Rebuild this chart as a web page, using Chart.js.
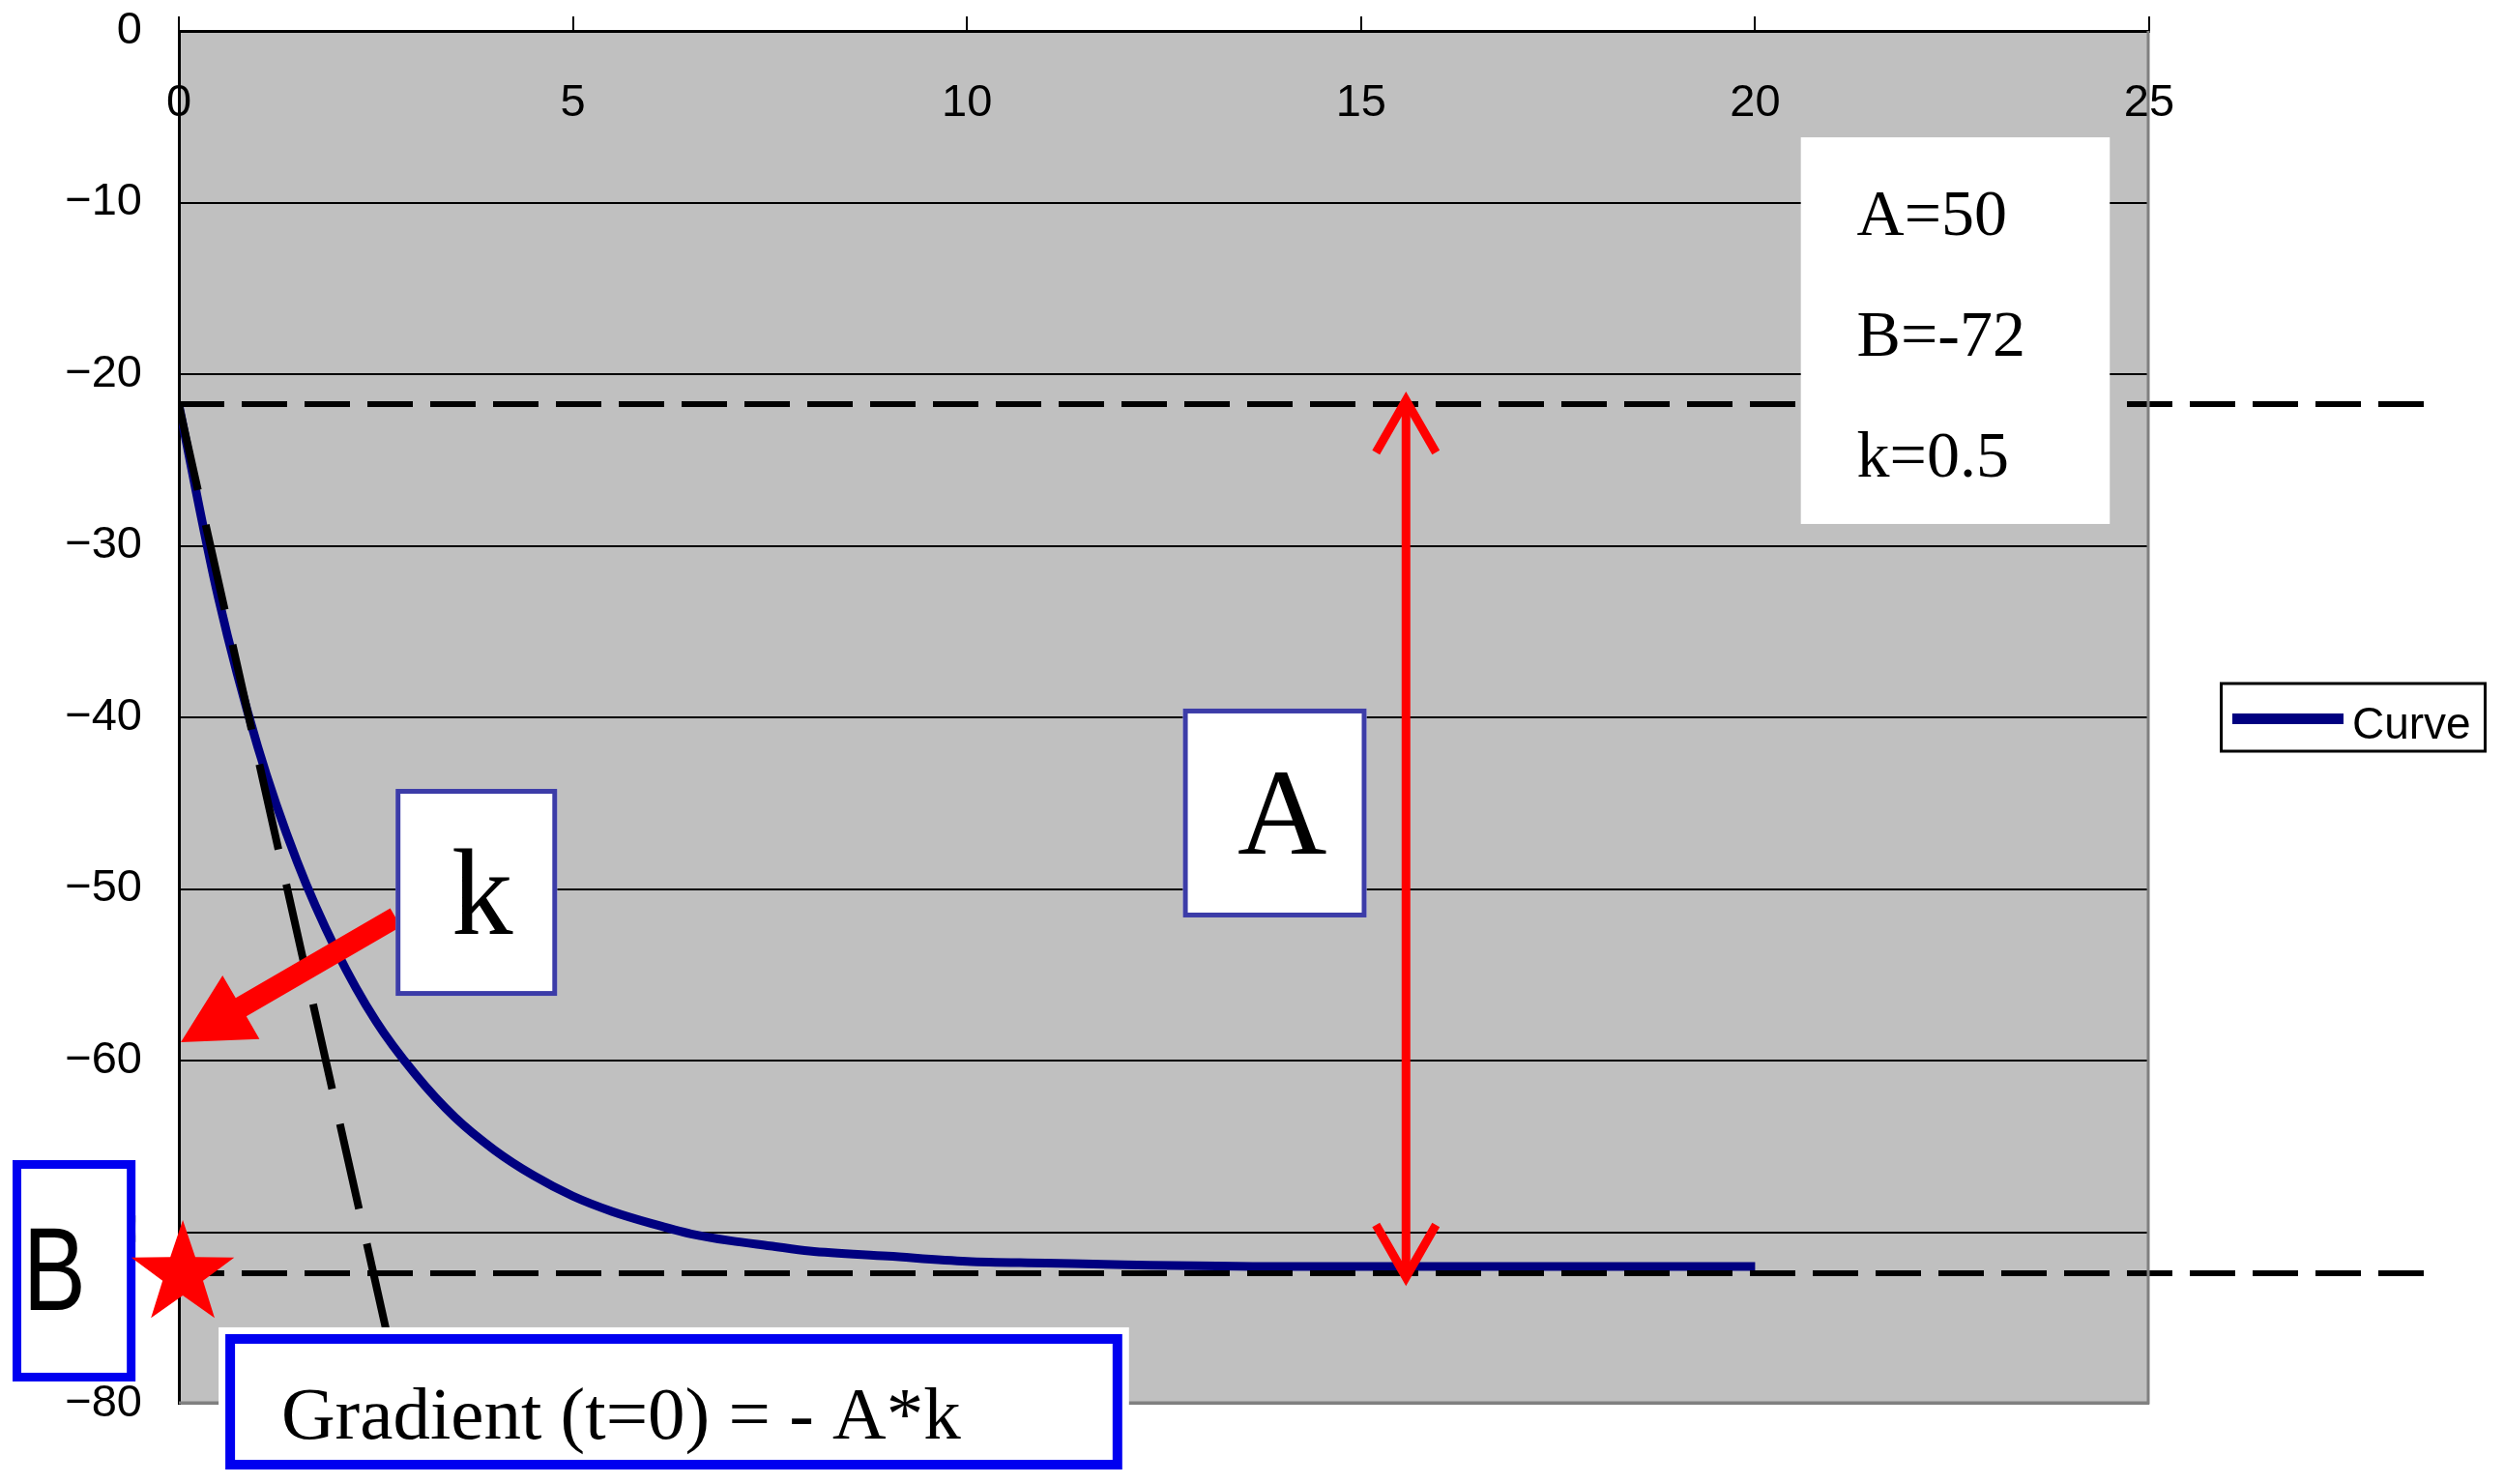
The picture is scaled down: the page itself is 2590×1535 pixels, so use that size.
<!DOCTYPE html>
<html>
<head>
<meta charset="utf-8">
<script src="https://cdn.jsdelivr.net/npm/chart.js@4.4.1/dist/chart.umd.min.js"></script>
<style>
  html, body { margin: 0; padding: 0; background: #fff; }
  canvas { display: block; }
</style>
</head>
<body>
<canvas id="chart" width="2590" height="1535"></canvas>
<script>
// Werte
const curveT = [0, 0.5, 1, 1.5, 2, 2.5, 3, 3.5, 4, 4.5, 5, 5.5, 6, 6.5, 7, 7.5, 8, 9, 10, 11, 12, 14, 16, 18, 20];
const curveY = [-21.8, -33.0, -41.7, -48.4, -53.6, -57.7, -60.8, -63.3, -65.2, -66.7, -67.9, -68.8, -69.5, -70.1,
                -70.5, -70.8, -71.1, -71.4, -71.7, -71.8, -71.9, -72.0, -72.0, -72.0, -72.0];

// Tangente bei t=0 (gestrichelt)
const tangentT = [0, 2.84];
const tangentY = [-21.8, -80];

// Hilfslinien A+B und B
const levelT = [0, 28.7];
const upperLevelY = [-21.75, -21.75];
const lowerLevelY = [-72.4, -72.4];

const xTickValues = [0, 5, 10, 15, 20, 25];
const yTickValues = [0, -10, -20, -30, -40, -50, -60, -70, -80];
const paramLabels = ["A=50", "B=-72", "k=0.5"];
const seriesName = "Curve";

const SANS = '"Liberation Sans", Arial, sans-serif';
const SERIF = '"Liberation Serif", "Times New Roman", serif';

function pts(xs, ys) {
  return xs.map((x, i) => ({ x: x, y: ys[i] }));
}

function drawBox(ctx, x1, y1, x2, y2, border, width, halo) {
  ctx.save();
  ctx.fillStyle = "#fff";
  if (halo) ctx.fillRect(x1 - halo, y1 - halo, x2 - x1 + 2 * halo, y2 - y1 + 2 * halo);
  ctx.fillRect(x1, y1, x2 - x1, y2 - y1);
  if (border) {
    ctx.strokeStyle = border;
    ctx.lineWidth = width;
    ctx.strokeRect(x1 + width / 2, y1 + width / 2, x2 - x1 - width, y2 - y1 - width);
  }
  ctx.restore();
}

function fatArrow(ctx, x1, y1, x2, y2, shaft, headLen, headHalf) {
  const dx = x2 - x1, dy = y2 - y1, L = Math.hypot(dx, dy);
  const ux = dx / L, uy = dy / L, nx = -uy, ny = ux;
  const bx = x2 - ux * headLen, by = y2 - uy * headLen;
  ctx.beginPath();
  ctx.moveTo(x1 + nx * shaft / 2, y1 + ny * shaft / 2);
  ctx.lineTo(bx + nx * shaft / 2, by + ny * shaft / 2);
  ctx.lineTo(bx + nx * headHalf, by + ny * headHalf);
  ctx.lineTo(x2, y2);
  ctx.lineTo(bx - nx * headHalf, by - ny * headHalf);
  ctx.lineTo(bx - nx * shaft / 2, by - ny * shaft / 2);
  ctx.lineTo(x1 - nx * shaft / 2, y1 - ny * shaft / 2);
  ctx.closePath();
  ctx.fill();
}

function star(ctx, cx, cy, R, r) {
  ctx.beginPath();
  for (let i = 0; i < 10; i++) {
    const a = -Math.PI / 2 + i * Math.PI / 5;
    const rad = i % 2 ? r : R;
    const x = cx + Math.cos(a) * rad, y = cy + Math.sin(a) * rad;
    if (i === 0) ctx.moveTo(x, y); else ctx.lineTo(x, y);
  }
  ctx.closePath();
  ctx.fill();
}

const plotFrame = {
  id: "plotFrame",
  beforeDraw(chart) {
    const { ctx, chartArea: a } = chart;
    ctx.save();
    ctx.fillStyle = "#c0c0c0";
    ctx.fillRect(a.left, a.top, a.right - a.left, a.bottom - a.top);
    ctx.restore();
  },
  afterDraw(chart) {
    const { ctx, chartArea: a } = chart;
    const sx = chart.scales.x, sy = chart.scales.y;
    const px = (v) => sx.getPixelForValue(v);
    const py = (v) => sy.getPixelForValue(v);

    ctx.save();
    // rechter + unterer Rand grau
    ctx.strokeStyle = "#808080";
    ctx.lineWidth = 3;
    ctx.beginPath();
    ctx.moveTo(a.left, a.bottom - 1);
    ctx.lineTo(a.right - 1, a.bottom - 1);
    ctx.lineTo(a.right - 1, a.top);
    ctx.stroke();

    // x-Beschriftung liegt innerhalb der Fläche, unter der Achse
    ctx.fillStyle = "#000";
    ctx.font = "47px " + SANS;
    ctx.textAlign = "center";
    ctx.textBaseline = "alphabetic";
    sx.ticks.forEach((t) => ctx.fillText(String(t.value), px(t.value), a.top + 88));

    // Parameterkasten
    drawBox(ctx, px(20.58), py(-6.2), px(24.5), py(-28.73));
    ctx.fillStyle = "#000";
    ctx.font = "68px " + SERIF;
    ctx.textAlign = "left";
    [-11.89, -18.93, -25.97].forEach((yv, i) => ctx.fillText(paramLabels[i], px(21.29), py(yv)));

    // Doppelpfeil A
    ctx.strokeStyle = "#ff0000";
    ctx.lineWidth = 9;
    const ax = px(15.57), aTop = py(-21.3), aBot = py(-72.85);
    ctx.beginPath();
    ctx.moveTo(ax, aTop + 4);
    ctx.lineTo(ax, aBot - 4);
    ctx.stroke();
    ctx.beginPath();
    ctx.moveTo(ax - 31, aTop + 58);
    ctx.lineTo(ax, aTop + 4);
    ctx.lineTo(ax + 31, aTop + 58);
    ctx.moveTo(ax - 31, aBot - 58);
    ctx.lineTo(ax, aBot - 4);
    ctx.lineTo(ax + 31, aBot - 58);
    ctx.stroke();

    // Kasten A
    drawBox(ctx, px(12.74), py(-39.49), px(15.07), py(-51.66), "#3c3ca8", 5);
    ctx.fillStyle = "#000";
    ctx.font = "128px " + SERIF;
    ctx.textAlign = "center";
    ctx.fillText("A", px(14.0), py(-47.94));

    // Pfeil k
    ctx.fillStyle = "#ff0000";
    fatArrow(ctx, px(2.75), py(-51.66), px(0.025), py(-58.93), 22, 72, 38);

    // Kasten k
    drawBox(ctx, px(2.75), py(-44.17), px(4.8), py(-56.23), "#3c3ca8", 5);
    ctx.fillStyle = "#000";
    ctx.font = "127px " + SERIF;
    ctx.fillText("k", px(3.85), py(-52.62));

    // Kasten B (links ausserhalb); weisser Streifen rechts verdeckt die -70
    const bx1 = px(-2.11), bx2 = px(-0.55), by1 = py(-65.8), by2 = py(-78.7);
    ctx.fillStyle = "#fff";
    ctx.fillRect(bx2, by1, 10, by2 - by1);
    drawBox(ctx, bx1, by1, bx2, by2, "#0000f0", 9);
    ctx.save();
    ctx.fillStyle = "#000";
    ctx.font = "122px " + SANS;
    ctx.translate(px(-1.58), py(-74.54));
    ctx.scale(0.8, 1);
    ctx.textAlign = "center";
    ctx.fillText("B", 0, 0);
    ctx.restore();

    // Stern bei B
    ctx.fillStyle = "#ff0000";
    star(ctx, px(0.05), py(-72.45), 56, 22);

    // Kasten Gradient
    drawBox(ctx, px(0.59), py(-75.94), px(11.97), py(-83.83), "#0000f0", 10, 7);
    ctx.fillStyle = "#000";
    ctx.font = "77px " + SERIF;
    ctx.textAlign = "left";
    ctx.fillText("Gradient (t=0) = - A*k", px(1.3), py(-82.03));

    // Legende
    const ds = chart.data.datasets[0];
    const lw = 276, lh = 73;
    const lx = a.right + 73, ly = (a.top + a.bottom) / 2 - lh / 2;
    ctx.fillStyle = "#fff";
    ctx.fillRect(lx, ly, lw, lh);
    ctx.strokeStyle = "#000";
    ctx.lineWidth = 3;
    ctx.strokeRect(lx + 1.5, ly + 1.5, lw - 3, lh - 3);
    ctx.strokeStyle = ds.borderColor;
    ctx.lineWidth = 11;
    ctx.beginPath();
    ctx.moveTo(lx + 13, ly + 38);
    ctx.lineTo(lx + 128, ly + 38);
    ctx.stroke();
    ctx.fillStyle = "#000";
    ctx.font = "46px " + SANS;
    ctx.textAlign = "left";
    ctx.fillText(ds.label, lx + 137, ly + 58);
    ctx.restore();
  }
};

const ctx = document.getElementById("chart").getContext("2d");

new Chart(ctx, {
  type: "line",
  data: {
    datasets: [
      {
        label: seriesName,
        data: pts(curveT, curveY),
        borderColor: "#000080",
        borderWidth: 9,
        pointRadius: 0,
        cubicInterpolationMode: "monotone",
        order: 3
      },
      {
        label: "tangent",
        data: pts(tangentT, tangentY),
        borderColor: "#000",
        borderWidth: 8,
        borderDash: [90, 37],
        pointRadius: 0,
        order: 2
      },
      {
        label: "A+B",
        data: pts(levelT, upperLevelY),
        borderColor: "#000",
        borderWidth: 6,
        borderDash: [47, 18],
        pointRadius: 0,
        clip: false,
        order: 1
      },
      {
        label: "B",
        data: pts(levelT, lowerLevelY),
        borderColor: "#000",
        borderWidth: 6,
        borderDash: [47, 18],
        pointRadius: 0,
        clip: false,
        order: 1
      }
    ]
  },
  options: {
    responsive: false,
    devicePixelRatio: 1,
    animation: false,
    layout: { padding: { left: 0, top: 0, right: 367, bottom: 83 } },
    plugins: {
      legend: { display: false },
      tooltip: { enabled: false }
    },
    scales: {
      x: {
        type: "linear",
        position: "top",
        min: 0,
        max: 25,
        afterBuildTicks: (scale) => { scale.ticks = xTickValues.map((v) => ({ value: v })); },
        afterFit: (scale) => { scale.height = 32; },
        ticks: { display: false },
        grid: {
          display: true,
          drawOnChartArea: false,
          drawTicks: true,
          tickLength: 15,
          color: "#000",
          lineWidth: 2
        },
        border: { display: true, color: "#000", width: 3 }
      },
      y: {
        type: "linear",
        min: -80,
        max: 0,
        afterBuildTicks: (scale) => { scale.ticks = yTickValues.map((v) => ({ value: v })); },
        afterFit: (scale) => {
          scale.width = 185;
          // sonst schiebt die Label-Hoehe die Flaeche nach unten
          scale.paddingTop = 0;
          scale.paddingBottom = 0;
        },
        ticks: {
          color: "#000",
          padding: 38,
          font: { family: SANS, size: 47 },
          callback: (v) => (v < 0 ? "\u2212" + Math.abs(v) : String(v))
        },
        grid: {
          drawTicks: false,
          color: (c) => (c.tick && c.tick.value === -80 ? "#808080" : "#000"),
          lineWidth: 2
        },
        border: { display: true, color: "#000", width: 3 }
      }
    }
  },
  plugins: [plotFrame]
});
</script>
</body>
</html>
